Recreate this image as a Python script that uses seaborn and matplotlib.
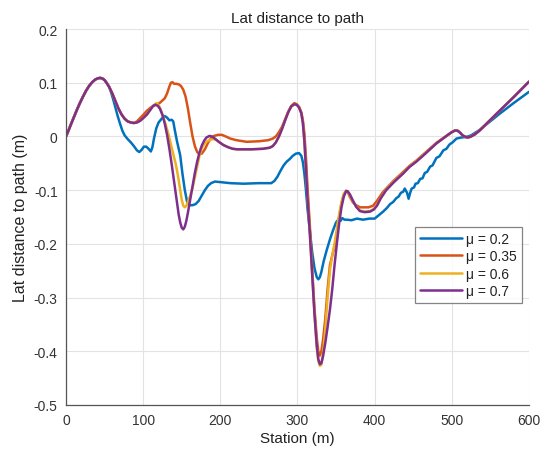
import numpy as np
import pandas as pd
import matplotlib
matplotlib.use("Agg")
import matplotlib.pyplot as plt
import seaborn as sns

# ---------------- data ----------------
series_labels = ["μ = 0.2", "μ = 0.35", "μ = 0.6", "μ = 0.7"]
colors = ["#0072BD", "#D95319", "#EDB120", "#7E2F8E"]

common_x = [0, 3, 6, 10, 14, 18, 22, 26, 30, 34, 38, 41, 44, 47, 50, 53, 56]
common_y = [0.0, 0.010, 0.021, 0.035, 0.049, 0.062, 0.074, 0.085, 0.094, 0.101, 0.106, 0.108,
            0.109, 0.108, 0.105, 0.099, 0.092]

tail_x = [500, 504, 507, 510, 514, 518, 521, 525, 530, 536, 560, 580, 600]
tail_y = [0.008, 0.011, 0.011, 0.008, 0.002, -0.001, -0.002, 0.000, 0.004, 0.011, 0.045, 0.073, 0.102]

# mu = 0.2
x_02 = common_x + [58, 61, 64, 67, 70, 73, 76, 80, 84, 88, 92, 95, 98, 101, 104, 107, 110, 112, 114,
                   117, 120, 124, 128, 131, 134, 137, 139, 141, 144, 148, 151, 154, 157, 160, 164, 168,
                   172, 176, 180, 184, 188, 193, 200, 213, 230, 250, 266, 270, 274, 278, 282, 286, 290,
                   294, 298, 302, 305, 307, 309, 311, 313, 316, 319, 322, 325, 327, 329, 331, 334, 338,
                   342, 346, 350, 353, 356, 358, 361, 364, 370, 377, 385, 393, 400, 405, 411, 416, 420,
                   424, 428, 431, 434, 437, 439, 442, 444, 446, 448, 451, 453, 456, 459, 462, 465, 468,
                   472, 475, 480, 484, 489, 493, 497, 501, 506, 512, 519, 525, 536, 560, 580, 600]
y_02 = common_y + [0.084, 0.070, 0.054, 0.038, 0.024, 0.011, 0.002, -0.005, -0.011, -0.018, -0.026,
                   -0.029, -0.025, -0.019, -0.019, -0.023, -0.028, -0.020, -0.004, 0.015, 0.026, 0.033,
                   0.038, 0.035, 0.030, 0.031, 0.028, 0.012, -0.010, -0.035, -0.070, -0.100, -0.122,
                   -0.128, -0.128, -0.126, -0.120, -0.110, -0.100, -0.092, -0.087, -0.084, -0.085,
                   -0.087, -0.088, -0.087, -0.087, -0.083, -0.075, -0.064, -0.054, -0.047, -0.042,
                   -0.036, -0.032, -0.031, -0.036, -0.048, -0.070, -0.100, -0.135, -0.175, -0.215,
                   -0.245, -0.262, -0.266, -0.262, -0.252, -0.232, -0.211, -0.192, -0.175, -0.160,
                   -0.155, -0.157, -0.152, -0.155, -0.155, -0.156, -0.153, -0.155, -0.153, -0.153,
                   -0.147, -0.140, -0.133, -0.126, -0.122, -0.115, -0.112, -0.105, -0.103, -0.097,
                   -0.105, -0.116, -0.105, -0.097, -0.095, -0.088, -0.087, -0.079, -0.078, -0.068,
                   -0.066, -0.056, -0.054, -0.040, -0.037, -0.026, -0.023, -0.015, -0.011, -0.004,
                   -0.002, -0.001, 0.002, 0.012, 0.040, 0.062, 0.083]

# mu = 0.7
x_07 = common_x + [60, 64, 68, 72, 76, 80, 84, 88, 92, 96, 100, 105, 110, 113, 116, 119, 122, 125,
                   128, 131, 134, 137, 140, 143, 146, 148, 150, 152, 154, 156, 158, 161, 164, 167,
                   170, 173, 176, 179, 182, 186, 189, 193, 198, 204, 210, 216, 222, 240, 255, 264,
                   268, 272, 276, 280, 284, 288, 292, 296, 299, 302, 305, 307, 309, 311, 313, 316,
                   319, 322, 325, 327, 329, 331, 333, 336, 339, 342, 345, 348, 351, 354, 357, 360,
                   363, 365, 368, 372, 376, 381, 387, 394, 399, 403, 408, 415, 425, 437, 445, 454,
                   465, 480, 495] + tail_x
y_07 = common_y + [0.080, 0.066, 0.052, 0.041, 0.033, 0.028, 0.026, 0.025, 0.026, 0.029, 0.034,
                   0.041, 0.051, 0.057, 0.059, 0.057, 0.051, 0.040, 0.024, 0.003, -0.023, -0.052,
                   -0.083, -0.115, -0.145, -0.160, -0.170, -0.173, -0.168, -0.157, -0.142, -0.118,
                   -0.093, -0.068, -0.047, -0.030, -0.017, -0.008, -0.002, 0.001, 0.000, -0.004,
                   -0.010, -0.016, -0.020, -0.023, -0.024, -0.024, -0.023, -0.021, -0.018, -0.011,
                   0.000, 0.014, 0.030, 0.045, 0.056, 0.060, 0.059, 0.054, 0.043, 0.025, -0.010,
                   -0.060, -0.115, -0.180, -0.255, -0.330, -0.390, -0.415, -0.424, -0.422, -0.410,
                   -0.385, -0.355, -0.323, -0.285, -0.240, -0.200, -0.162, -0.132, -0.112, -0.102,
                   -0.102, -0.108, -0.120, -0.131, -0.139, -0.141, -0.140, -0.136, -0.129, -0.115,
                   -0.100, -0.085, -0.069, -0.057, -0.047, -0.033, -0.013, 0.003] + tail_y

# mu = 0.35
x_035 = common_x + [60, 64, 68, 72, 76, 80, 84, 88, 92, 96, 100, 105, 110, 115, 119, 122, 125, 128,
                    131, 134, 136, 138, 140, 143, 146, 149, 152, 155, 158, 161, 164, 167, 170, 173,
                    176, 180, 184, 188, 192, 197, 202, 207, 213, 221, 234, 250, 262, 268, 272, 276,
                    280, 284, 288, 292, 296, 299, 302, 305, 307, 309, 311, 313, 316, 319, 322, 325,
                    327, 329, 331, 333, 336, 339, 342, 345, 348, 351, 354, 357, 360, 363, 365, 368,
                    372, 376, 381, 392, 398, 403, 410, 415, 425, 437, 445, 454, 465, 480, 495] + tail_x
y_035 = common_y + [0.080, 0.066, 0.052, 0.041, 0.033, 0.028, 0.026, 0.025, 0.028, 0.034, 0.040,
                    0.048, 0.054, 0.058, 0.060, 0.063, 0.067, 0.071, 0.080, 0.093, 0.100, 0.101,
                    0.098, 0.098, 0.097, 0.094, 0.087, 0.074, 0.052, 0.025, 0.000, -0.018, -0.029,
                    -0.033, -0.032, -0.024, -0.012, -0.003, 0.001, 0.003, 0.003, 0.000, -0.004,
                    -0.007, -0.010, -0.009, -0.007, -0.004, 0.000, 0.008, 0.018, 0.032, 0.046,
                    0.057, 0.062, 0.060, 0.055, 0.045, 0.030, 0.005, -0.040, -0.095, -0.165, -0.245,
                    -0.320, -0.375, -0.400, -0.408, -0.400, -0.380, -0.340, -0.285, -0.240, -0.222,
                    -0.205, -0.180, -0.150, -0.125, -0.108, -0.101, -0.103, -0.113, -0.123, -0.128,
                    -0.132, -0.132, -0.129, -0.120, -0.105, -0.097, -0.082, -0.066, -0.055, -0.045,
                    -0.031, -0.012, 0.003] + tail_y

# mu = 0.6
x_06 = common_x + [60, 64, 68, 72, 76, 80, 84, 88, 92, 96, 100, 105, 110, 113, 116, 118, 121, 124,
                   127, 130, 133, 136, 139, 142, 145, 148, 150, 152, 154, 156, 158, 161, 164, 167,
                   170, 173, 176, 179, 183, 187, 191, 195, 200, 204, 210, 216, 222, 240, 255, 264,
                   268, 272, 276, 280, 284, 288, 292, 296, 299, 302, 305, 307, 309, 311, 313, 316,
                   319, 322, 325, 327, 329, 331, 333, 336, 339, 342, 345, 348, 351, 354, 357, 360,
                   363, 365, 368, 372, 376, 381, 387, 394, 399, 403, 408, 415, 425, 437, 445, 454,
                   465, 480, 495] + tail_x
y_06 = common_y + [0.080, 0.066, 0.052, 0.041, 0.033, 0.028, 0.026, 0.025, 0.026, 0.029, 0.034,
                   0.041, 0.051, 0.057, 0.061, 0.062, 0.056, 0.045, 0.032, 0.018, 0.003, -0.015,
                   -0.033, -0.050, -0.072, -0.100, -0.118, -0.129, -0.132, -0.129, -0.122, -0.110,
                   -0.096, -0.076, -0.056, -0.036, -0.022, -0.014, -0.009, -0.006, -0.005, -0.007,
                   -0.012, -0.016, -0.020, -0.023, -0.024, -0.024, -0.023, -0.021, -0.018, -0.011,
                   0.000, 0.014, 0.030, 0.045, 0.056, 0.060, 0.059, 0.054, 0.043, 0.025, -0.010,
                   -0.060, -0.115, -0.180, -0.255, -0.330, -0.392, -0.418, -0.427, -0.425, -0.405,
                   -0.360, -0.300, -0.250, -0.222, -0.200, -0.172, -0.145, -0.122, -0.107, -0.101,
                   -0.103, -0.110, -0.121, -0.130, -0.138, -0.140, -0.139, -0.135, -0.128, -0.114,
                   -0.099, -0.084, -0.068, -0.056, -0.046, -0.032, -0.013, 0.003] + tail_y

series_x = [x_02, x_035, x_06, x_07]
series_y = [y_02, y_035, y_06, y_07]

x_ticks = [0, 100, 200, 300, 400, 500, 600]
y_ticks = [-0.5, -0.4, -0.3, -0.2, -0.1, 0, 0.1, 0.2]

frames = []
for lab, xs, ys in zip(series_labels, series_x, series_y):
    frames.append(pd.DataFrame({"station": xs, "lat": ys, "series": lab}))
df = pd.concat(frames, ignore_index=True)

# ---------------- plot ----------------
sns.set_style("white")
plt.rcParams["font.family"] = ["Liberation Sans", "DejaVu Sans"]

fig = plt.figure(figsize=(5.48, 4.52), dpi=100)
ax = fig.add_axes([0.1204, 0.1018, 0.8449, 0.8318])

sns.lineplot(data=df, x="station", y="lat", hue="series", hue_order=series_labels,
             palette=colors, sort=False, estimator=None, linewidth=1.8, ax=ax, legend=True)

ax.set_xlim(0, 600)
ax.set_ylim(-0.5, 0.2)
ax.set_xticks(x_ticks)
ax.set_yticks(y_ticks)
ax.set_yticklabels([f"{v:g}" for v in y_ticks])
ax.grid(True, color="#e3e3e3", linewidth=0.8)
ax.set_axisbelow(True)
for s in ["top", "right"]:
    ax.spines[s].set_visible(False)
for s in ["left", "bottom"]:
    ax.spines[s].set_color("#555555")
    ax.spines[s].set_linewidth(0.9)
ax.tick_params(direction="in", length=4, width=0.8, color="#555555",
               labelcolor="#333333", labelsize=10, pad=6)

ax.set_title("Lat distance to path", fontsize=11, color="#222222", pad=5)
ax.set_xlabel("Station (m)", fontsize=11, color="#222222", labelpad=3)
ax.set_ylabel("Lat distance to path (m)", fontsize=11.5, color="#222222", labelpad=4)

handles, labels = ax.get_legend_handles_labels()
leg = ax.legend(handles, labels, loc="upper right", bbox_to_anchor=(0.952, 0.496),
                bbox_transform=fig.transFigure, fontsize=10, frameon=True, fancybox=False,
                handlelength=3.0, handletextpad=0.3, borderpad=0.35, labelspacing=0.25,
                borderaxespad=0)
leg.get_frame().set_edgecolor("#666666")
leg.get_frame().set_linewidth(0.9)
for t in leg.get_texts():
    t.set_color("#222222")

fig.savefig("out.png", dpi=100, facecolor="white")
